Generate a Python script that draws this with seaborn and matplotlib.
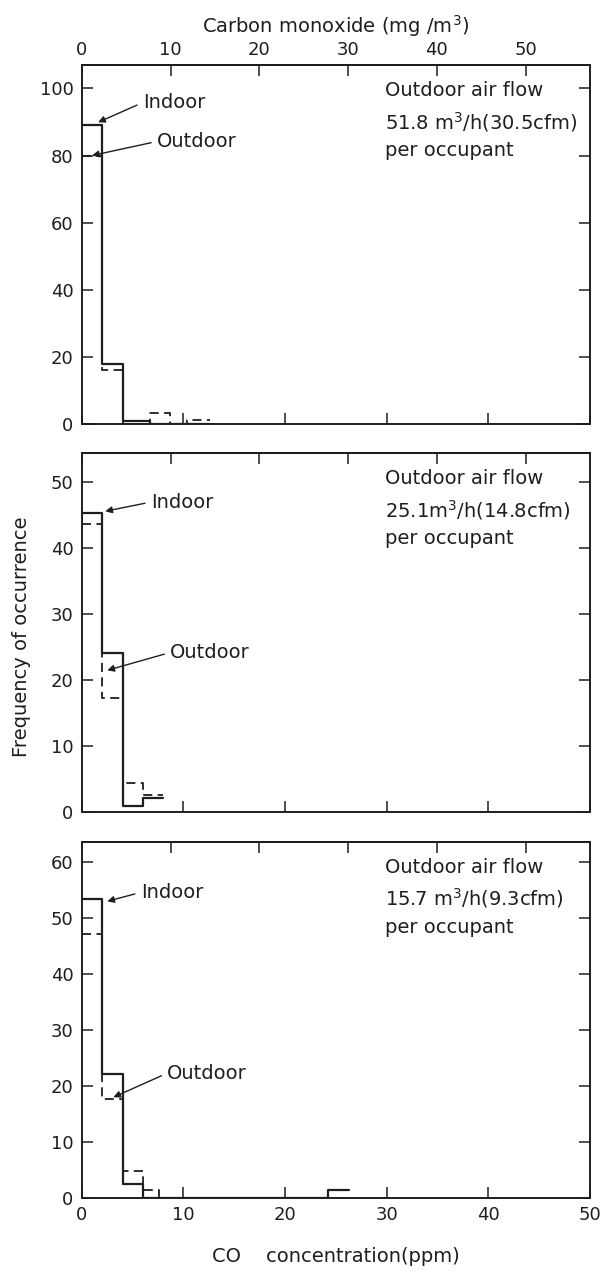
import numpy as np
import matplotlib
matplotlib.use("Agg")
import matplotlib.pyplot as plt
import seaborn as sns

# bin edges (ppm) and frequencies
edges_top = [0, 2, 4, 6.7, 8.7, 10.3, 12.6]
indoor_top = [89, 18, 1, 0, 0, 0]
outdoor_top = [80, 16, 0, 3.3, 0, 1.2]

edges_mid = [0, 2, 4, 6, 8]
indoor_mid = [45.3, 24.1, 1.0, 2.1]
outdoor_mid = [43.6, 17.3, 4.4, 2.6]

edges_bot = [0, 2, 4, 6, 7.6, 24.2, 26.3]
indoor_bot = [53.4, 22.1, 2.5, 0, 0, 1.5]
outdoor_bot = [47.1, 17.7, 4.8, 1.4, 0, 0]

flow_labels = [
    "Outdoor air flow\n51.8 m$^3$/h(30.5cfm)\nper occupant",
    "Outdoor air flow\n25.1m$^3$/h(14.8cfm)\nper occupant",
    "Outdoor air flow\n15.7 m$^3$/h(9.3cfm)\nper occupant",
]
ylims = [107, 54.4, 63.6]
yticks = [range(0, 101, 20), range(0, 51, 10), range(0, 61, 10)]
x_ticks = [0, 10, 20, 30, 40, 50]
mg_ticks = [0, 10, 20, 30, 40, 50]
PPM_TO_MG = 1.145

# annotation anchors (data coords): (tip, text)
indoor_ann = [((1.6, 89.9), (6.0, 95.8)), ((2.3, 45.6), (6.8, 47.0)), ((2.5, 53.0), (5.8, 54.6))]
outdoor_ann = [((1.0, 80.0), (7.4, 84.2)), ((2.5, 21.5), (8.7, 24.2)), ((3.1, 18.0), (8.4, 22.3))]

sns.set_theme(style="white")
plt.rcParams["font.family"] = ["DejaVu Sans"]
INK = "#1e1e1e"
FS = 13
FT = 14

fig = plt.figure(figsize=(6.02, 12.73), dpi=100)
boxes = [[0.136, 0.667, 0.844, 0.282], [0.136, 0.362, 0.844, 0.282], [0.136, 0.0589, 0.844, 0.2797]]
panels = [(edges_top, indoor_top, outdoor_top), (edges_mid, indoor_mid, outdoor_mid), (edges_bot, indoor_bot, outdoor_bot)]

for i, (box, (edges, indoor, outdoor)) in enumerate(zip(boxes, panels)):
    ax = fig.add_axes(box)
    e = np.array(edges)
    centers = (e[:-1] + e[1:]) / 2
    sns.histplot(x=centers, weights=outdoor, bins=edges, element="step", fill=False,
                 color=INK, linewidth=1.3, linestyle=(0, (5, 3)), ax=ax)
    sns.histplot(x=centers, weights=indoor, bins=edges, element="step", fill=False,
                 color=INK, linewidth=1.6, ax=ax)
    ax.set_xlim(0, 50)
    ax.set_ylim(0, ylims[i])
    ax.set_xlabel("")
    ax.set_ylabel("")
    ax.set_xticks(x_ticks)
    ax.set_yticks(list(yticks[i]))
    ax.tick_params(axis="both", direction="in", length=8, width=1.1, color=INK,
                   labelsize=FS, labelcolor=INK, right=True, top=False, left=True, bottom=True, pad=6)
    if i < 2:
        ax.tick_params(axis="x", labelbottom=False)
    for s in ax.spines.values():
        s.set_color(INK)
        s.set_linewidth(1.4)
    sec = ax.secondary_xaxis("top", functions=(lambda x: x * PPM_TO_MG, lambda m: m / PPM_TO_MG))
    sec.set_xticks(mg_ticks)
    sec.tick_params(direction="in", length=8, width=1.1, color=INK, labelsize=FS, labelcolor=INK, pad=4)
    if i > 0:
        sec.tick_params(labeltop=False)
    else:
        sec.set_xlabel("Carbon monoxide (mg /m$^3$)", fontsize=FT, color=INK, labelpad=6)
    arrow = dict(arrowstyle="-|>", color=INK, lw=1.0, mutation_scale=10, relpos=(0, 0.5), shrinkA=2, shrinkB=0)
    tip, txt = indoor_ann[i]
    ax.annotate("Indoor", xy=tip, xytext=txt, ha="left", va="center", fontsize=FT, color=INK, arrowprops=arrow)
    tip, txt = outdoor_ann[i]
    ax.annotate("Outdoor", xy=tip, xytext=txt, ha="left", va="center", fontsize=FT, color=INK, arrowprops=arrow)
    ax.text(0.597, 0.955, flow_labels[i], transform=ax.transAxes, ha="left", va="top",
            fontsize=FT, color=INK, linespacing=1.5)
    if i == 2:
        ax.set_xlabel("CO    concentration(ppm)", fontsize=FT, color=INK, labelpad=16)

fig.text(0.035, 0.5, "Frequency of occurrence", rotation=90, ha="center", va="center", fontsize=FT, color=INK)
fig.savefig("out.png", dpi=100)
